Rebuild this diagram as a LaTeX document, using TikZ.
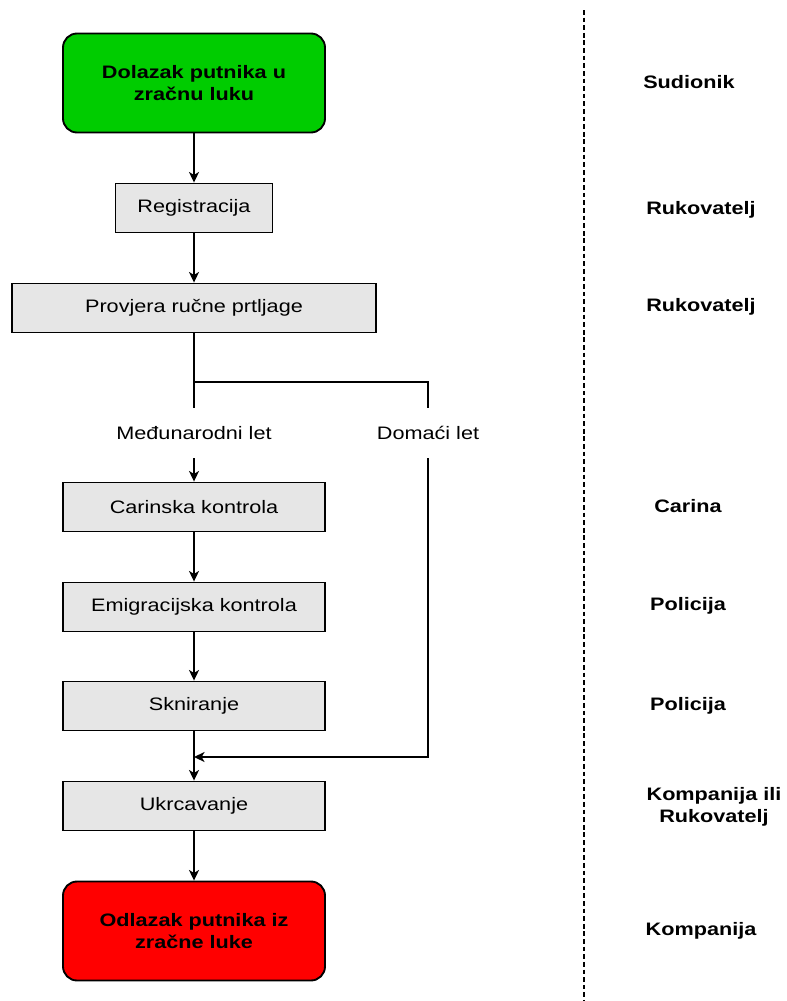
\documentclass[tikz,border=0pt]{standalone}
\usepackage{fontspec}
\setmainfont{Liberation Sans}[FakeStretch=1.2]
\usepackage{xcolor}
\definecolor{boxgray}{HTML}{E6E6E6}
\definecolor{startgreen}{HTML}{00CC00}
\definecolor{endred}{HTML}{FF0000}
\usetikzlibrary{arrows.meta}

\begin{document}
\begin{tikzpicture}[x=0.03cm,y=-0.03cm,
  every node/.style={font=\fontsize{15.4}{19}\selectfont},
  proc/.style={draw,line width=1.6pt,fill=boxgray,minimum height=1.47cm,inner sep=0pt},
  term/.style={draw,line width=1.6pt,rounded corners=12pt,minimum width=7.86cm,minimum height=2.97cm,
    align=center,font=\fontsize{15.4}{19}\selectfont\bfseries},
  who/.style={align=center,font=\fontsize{15.4}{19}\selectfont\bfseries},
  lbl/.style={minimum height=1.5cm,inner sep=0pt},
  ln/.style={line width=1.6pt},
  arr/.style={line width=1.6pt,-{Stealth[length=9pt,width=8.5pt,inset=2.5pt]}}]
  \useasboundingbox (0,0) rectangle (787,1001);
  \node[term,fill=startgreen] (start) at (194,83) {Dolazak putnika u\\zračnu luku};
  \node[proc,minimum width=4.71cm] (reg) at (194,208) {Registracija};
  \node[proc,minimum width=10.92cm] (prov) at (194,308) {Provjera ručne prtljage};
  \node[lbl] (medj) at (194,433) {Međunarodni let};
  \node[lbl] (dom) at (428,433) {Domaći let};
  \node[proc,minimum width=7.86cm] (car) at (194,507) {Carinska kontrola};
  \node[proc,minimum width=7.86cm] (emi) at (194,607) {Emigracijska kontrola};
  \node[proc,minimum width=7.86cm] (skn) at (194,706) {Skniranje};
  \node[proc,minimum width=7.86cm] (ukr) at (194,806) {Ukrcavanje};
  \node[term,fill=endred] (end) at (194,931) {Odlazak putnika iz\\zračne luke};
  \coordinate (split) at (194,382);
  \coordinate (join) at (194,757);

  \draw[arr] (start) -- (reg);
  \draw[arr] (reg) -- (prov);
  \draw[ln] (prov) -- (medj);
  \draw[ln] (split) -| (dom);
  \draw[arr] (medj) -- (car);
  \draw[arr] (car) -- (emi);
  \draw[arr] (emi) -- (skn);
  \draw[arr] (skn) -- (ukr);
  \draw[arr] (dom) |- (join);
  \draw[arr] (ukr) -- (end);

  \draw[line width=1.4pt,dash pattern=on 4pt off 2.5pt] (584,10) -- (584,1001);

  \node[who] (s1) at (689,82) {Sudionik};
  \node[who] (s2) at (701,210) {Rukovatelj};
  \node[who] (s3) at (701,307) {Rukovatelj};
  \node[who] (s4) at (688,506) {Carina};
  \node[who] (s5) at (688,606) {Policija};
  \node[who] (s6) at (688,706) {Policija};
  \node[who] (s7) at (714,807) {Kompanija ili\\Rukovatelj};
  \node[who] (s8) at (701,931) {Kompanija};
\end{tikzpicture}
\end{document}
